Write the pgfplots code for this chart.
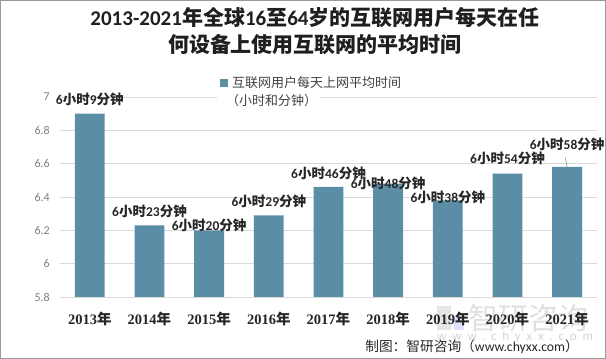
\documentclass[border=0pt]{standalone}
\usepackage{pgfplots}
\pgfplotsset{compat=1.18}
\usepackage{pgfplotstable}
\usetikzlibrary{calc,backgrounds}
\usepackage{fontspec}
\setmainfont{Carlito}
\newfontfamily\cjk{Noto Sans CJK SC}
\newfontfamily\yr{Liberation Serif}
\newfontfamily\wm[LetterSpace=45]{Carlito}
\definecolor{barc}{HTML}{5B8EA6}
\definecolor{txt}{HTML}{262626}
\definecolor{tickc}{HTML}{7F7F7F}
\definecolor{gridc}{HTML}{D9D9D9}
\newcommand\lb[1]{\bfseries 6{\cjk 小时}#1{\cjk 分钟}}
\newcommand\yl[1]{{\bfseries\yr #1}{\bfseries\cjk 年}}

\pgfplotstableread{
x y min off
0 6.90 9 14
1 6.23 23 14
2 6.20 20 5
3 6.29 29 14
4 6.46 46 14
5 6.48 48 0
6 6.38 38 3
7 6.54 54 15
8 6.58 58 23
}\data

\begin{document}
\begin{tikzpicture}
\begin{axis}[
  scale only axis,
  width=537pt, height=200pt,
  xmin=-0.5, xmax=8.5, ymin=5.8, ymax=7,
  ytick={5.8,6,6.2,6.4,6.6,6.8,7},
  yticklabels={5.8,6,6.2,6.4,6.6,6.8,7},
  xtick={0,...,8},
  xticklabels={\yl{2013},\yl{2014},\yl{2015},\yl{2016},\yl{2017},\yl{2018},\yl{2019},\yl{2020},\yl{2021}},
  ymajorgrids, grid style={gridc, line width=0.8pt},
  axis line style={draw=none}, major tick length=0pt,
  yticklabel style={font=\fontsize{12}{12}\selectfont, text=tickc, anchor=east, inner sep=0pt, xshift=-10pt},
  xticklabel style={font=\fontsize{14.5}{15}\selectfont, text=txt, anchor=center, inner sep=0pt, yshift=-22pt},
  clip=false,
]
\addplot[ybar, bar width=0.5, fill=barc, draw=none,
  point meta=explicit,
  visualization depends on={\thisrow{off}\as\off},
  nodes near coords={\lb{\pgfmathprintnumber[fixed,precision=0,assume math mode=true]{\pgfplotspointmeta}}},
  every node near coord/.append style={anchor=center, yshift=\off pt, font=\fontsize{13.5}{14}\selectfont, text=txt, inner sep=0pt},
] table[x=x,y=y,meta=min]{\data};
\draw[black!45, line width=0.6pt] (axis cs:8,6.58) -- (axis cs:7.97,6.635);
\end{axis}
\begin{scope}[shift={($(current axis.south west)+(-60pt,-62pt)$)}, x=1pt, y=1pt]
\draw[color=black!40, line width=1pt] (0.5,0.5) rectangle (605.5,358.5);
% watermark (behind)
\begin{pgfonlayer}{background}
\fill[black!10] (437,29) rectangle (451,53);
\fill[blue!12] (454,29) rectangle (464,44);
\node[text=black!12, font=\cjk\fontsize{30}{30}\selectfont, anchor=west, inner sep=0pt] at (468,41) {智研咨询};
\node[text=black!17, font=\wm\fontsize{13}{13}\selectfont, anchor=west, inner sep=0pt] at (437,22) {www.chyxx.com};
\end{pgfonlayer}
% legend
\fill[white] (217,251) rectangle (320,266);
\fill[barc] (220,272) rectangle (228,280);
\node[anchor=west, inner sep=0pt, text=black!75, font=\cjk\fontsize{13}{13}\selectfont] at (232,276) {互联网用户每天上网平均时间};
\node[anchor=west, inner sep=0pt, text=black!75, font=\cjk\fontsize{13}{13}\selectfont] at (226,258) {（小时和分钟）};
% title
\node[text=black!88, font=\bfseries\fontsize{21}{21}\selectfont, inner sep=0pt] at (315,341) {2013-2021{\cjk 年全球}16{\cjk 至}64{\cjk 岁的互联网用户每天在任}};
\node[text=black!88, font=\bfseries\cjk\fontsize{21}{21}\selectfont, inner sep=0pt] at (315,314) {何设备上使用互联网的平均时间};
% source
\node[anchor=east, inner sep=0pt, text=txt, font=\fontsize{13.7}{14}\selectfont] at (579,12) {{\cjk 制图：智研咨询（}www.chyxx.com{\cjk ）}};
\pgfresetboundingbox
\path[use as bounding box] (0,0) rectangle (606,359);
\end{scope}
\end{tikzpicture}
\end{document}
